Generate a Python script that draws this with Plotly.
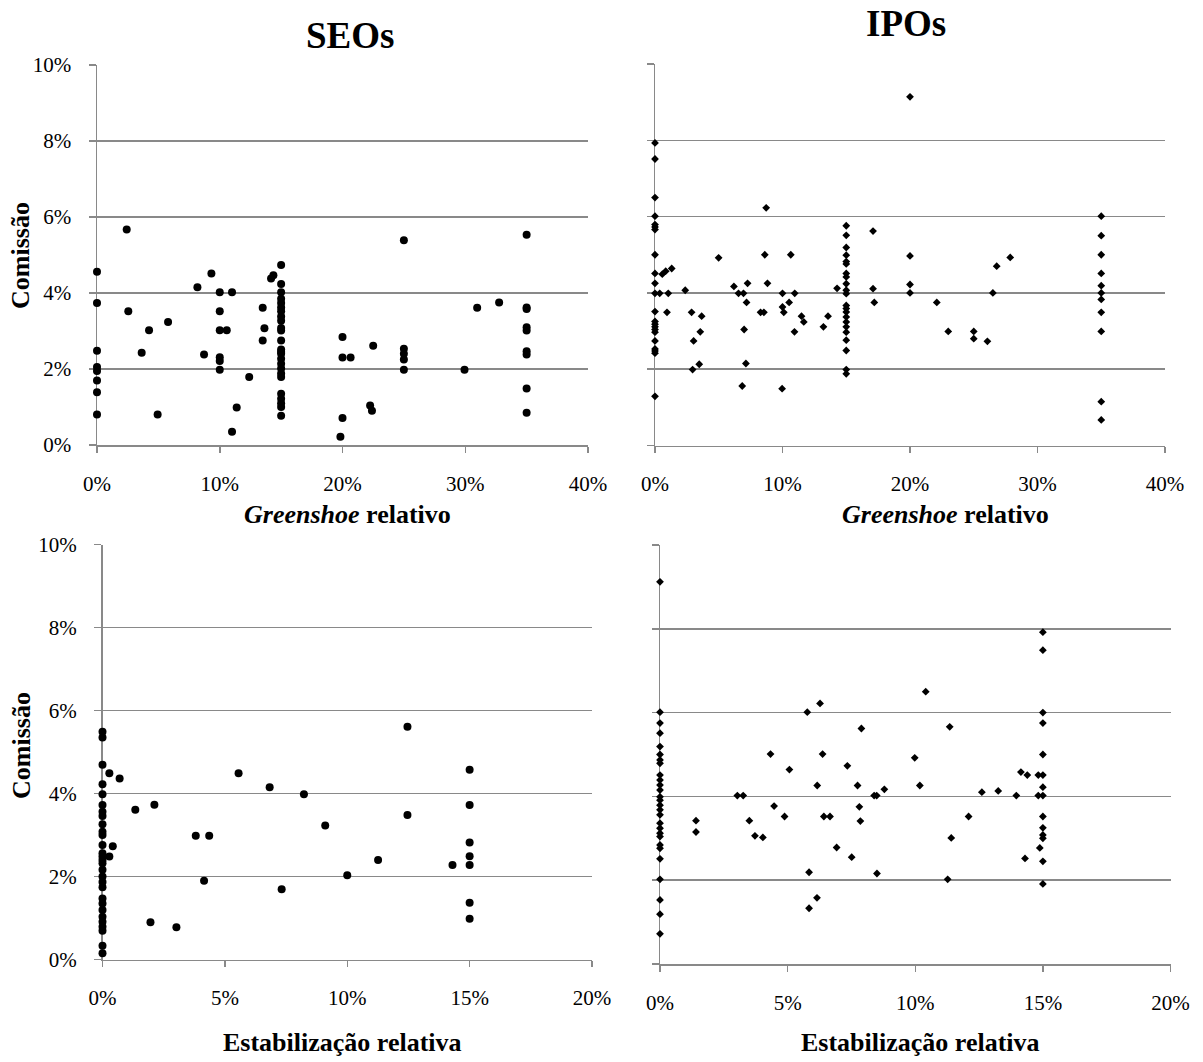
import plotly.graph_objects as go

# ---------------- DATA (in %) ----------------
# SEOs: Greenshoe relativo vs Comissão
seo_gs_x = [0, 0, 0, 0, 0, 0, 0, 0,
            2.42, 2.55, 4.24, 3.64, 5.79, 4.94,
            8.18, 9.32, 8.72,
            10, 10, 10, 10.57, 10, 10, 10,
            11.0, 12.4, 11.38, 11.0,
            13.5, 13.64, 13.5, 14.18, 14.37,
            15, 15, 15, 15, 15, 15, 15, 15, 15, 15, 15, 15, 15,
            15, 15, 15, 15, 15, 15, 15, 15, 15, 15, 15, 15,
            20, 20, 20.66, 20, 19.83, 22.5, 22.25, 22.4,
            25, 25, 25, 25, 25,
            29.94, 30.97, 32.76,
            35, 35, 35, 35, 35, 35, 35, 35, 35]
seo_gs_y = [4.56, 3.74, 2.48, 2.05, 1.95, 1.70, 1.39, 0.80,
            5.67, 3.52, 3.02, 2.43, 3.24, 0.80,
            4.15, 4.51, 2.38,
            4.02, 3.52, 3.02, 3.02, 2.31, 2.21, 1.98,
            4.02, 1.79, 0.99, 0.35,
            3.61, 3.07, 2.75, 4.38, 4.47,
            4.74, 4.24, 4.02, 3.85, 3.74, 3.62, 3.52, 3.38, 3.27, 3.08, 3.01, 2.75, 2.51,
            2.45, 2.40, 2.27, 2.14, 2.01, 1.88, 1.79, 1.35, 1.22, 1.10, 1.00, 0.77,
            2.84, 2.30, 2.30, 0.71, 0.22, 2.61, 1.04, 0.90,
            5.39, 2.53, 2.40, 2.25, 1.98,
            1.98, 3.61, 3.75,
            5.53, 3.62, 3.58, 3.10, 3.01, 2.47, 2.38, 1.49, 0.85]

# IPOs: Greenshoe relativo vs Comissão
ipo_gs_x = [0, 0, 0, 0, 0, 0, 0, 0, 0, 0, 0, 0, 0, 0, 0, 0, 0, 0, 0, 0, 0, 0,
            0.37, 0.57, 0.84, 1.31, 1.04, 0.94, 2.37, 2.87, 3.66, 3.55, 3.03, 3.47, 2.95,
            4.99, 6.19, 6.55, 6.94, 7.26, 7.18, 6.99, 7.13, 6.84,
            8.72, 8.61, 8.82, 8.28, 8.54, 10.0, 10.0, 10.1, 9.97,
            10.65, 10.52, 10.96, 11.49, 11.67, 10.94, 13.21, 13.57, 14.28,
            15, 15, 15, 15, 15, 15, 15, 15, 15, 15, 15,
            15, 15, 15, 15, 15, 15, 15, 15, 15, 15, 15,
            17.1, 17.1, 17.2, 20, 20, 20, 20, 22.1, 23.0, 25, 25, 26.07, 26.5, 26.8, 27.86,
            35, 35, 35, 35, 35, 35, 35, 35, 35, 35, 35]
ipo_gs_y = [7.93, 7.51, 6.50, 6.01, 5.79, 5.73, 5.66, 5.00, 4.51, 4.25, 3.99,
            3.51, 3.25, 3.18, 3.11, 3.04, 2.97, 2.74, 2.53, 2.48, 2.42, 1.29,
            3.99, 4.49, 4.57, 4.64, 3.99, 3.49, 4.07, 3.49, 3.39, 2.98, 2.74, 2.13, 1.99,
            4.92, 4.17, 3.99, 3.99, 4.25, 3.75, 3.04, 2.15, 1.56,
            6.23, 5.00, 4.25, 3.49, 3.49, 3.99, 3.63, 3.49, 1.49,
            5.00, 3.75, 3.99, 3.39, 3.24, 2.98, 3.11, 3.39, 4.12,
            5.76, 5.51, 5.19, 4.99, 4.82, 4.76, 4.51, 4.42, 4.24, 4.07, 3.98,
            3.67, 3.59, 3.50, 3.37, 3.24, 3.11, 2.97, 2.76, 2.49, 1.99, 1.88,
            5.62, 4.11, 3.75, 9.14, 4.97, 4.22, 4.00, 3.75, 2.99, 2.99, 2.80, 2.73, 4.00, 4.70, 4.93,
            6.01, 5.50, 5.00, 4.51, 4.19, 4.00, 3.83, 3.49, 2.99, 1.15, 0.67]

# SEOs: Estabilização relativa vs Comissão
seo_est_x = [0, 0, 0, 0, 0, 0, 0, 0, 0, 0, 0, 0, 0, 0, 0,
             0, 0, 0, 0, 0, 0, 0, 0, 0, 0, 0, 0, 0, 0,
             0.28, 0.70, 1.34, 2.12, 0.42, 0.28, 3.81, 4.36, 4.15, 1.96, 3.02,
             5.56, 6.83, 7.32, 8.23, 9.10, 10.0, 11.26, 12.46, 12.46, 14.30,
             15, 15, 15, 15, 15, 15, 15]
seo_est_y = [5.49, 5.35, 4.69, 4.22, 3.98, 3.72, 3.56, 3.46, 3.26, 3.08, 3.00, 2.76, 2.56, 2.48, 2.40,
             2.32, 2.16, 2.00, 1.87, 1.74, 1.47, 1.35, 1.19, 1.03, 0.91, 0.79, 0.69, 0.33, 0.15,
             4.49, 4.36, 3.61, 3.73, 2.73, 2.48, 2.98, 2.98, 1.90, 0.90, 0.78,
             4.49, 4.15, 1.69, 3.98, 3.23, 2.03, 2.40, 5.61, 3.48, 2.28,
             4.57, 3.72, 2.82, 2.49, 2.28, 1.37, 0.98]

# IPOs: Estabilização relativa vs Comissão
ipo_est_x = [0, 0, 0, 0, 0, 0, 0, 0, 0, 0, 0, 0, 0, 0,
             0, 0, 0, 0, 0, 0, 0, 0, 0, 0, 0, 0, 0, 0,
             1.41, 1.41, 3.03, 3.26, 3.50, 3.72, 4.03, 4.33, 4.47, 4.88, 5.07,
             5.77, 6.27, 6.37, 6.16, 6.42, 6.66, 6.92, 5.84, 6.15, 5.84,
             7.51, 7.34, 7.74, 7.81, 7.85, 7.89, 8.39, 8.49, 8.79, 8.50,
             9.98, 10.18, 10.41, 11.35, 11.41, 11.27, 12.09, 12.61, 13.25, 13.96,
             14.14, 14.39, 14.30, 14.88, 14.82, 14.82,
             15, 15, 15, 15, 15, 15, 15, 15, 15, 15, 15, 15, 15, 15]
ipo_est_y = [9.12, 6.01, 5.75, 5.51, 5.19, 5.00, 4.87, 4.79, 4.51, 4.39, 4.27, 4.15, 3.99, 3.91,
             3.79, 3.68, 3.56, 3.36, 3.24, 3.12, 3.04, 2.84, 2.76, 2.51, 2.02, 1.53, 1.19, 0.72,
             3.42, 3.15, 4.02, 4.02, 3.42, 3.06, 3.02, 5.01, 3.77, 3.52, 4.64,
             6.01, 6.22, 5.01, 4.26, 3.52, 3.52, 2.78, 2.19, 1.58, 1.33,
             2.55, 4.73, 4.26, 3.75, 3.41, 5.62, 4.02, 4.02, 4.17, 2.16,
             4.92, 4.26, 6.50, 5.66, 3.01, 2.02, 3.52, 4.10, 4.13, 4.02,
             4.58, 4.51, 2.52, 2.77, 4.51, 4.02,
             7.92, 7.49, 6.00, 5.75, 5.00, 4.51, 4.22, 4.02, 3.52, 3.25, 3.08, 3.00, 2.45, 1.91]

panel_titles = ["SEOs", "IPOs"]
y_title = "Comissão"
x_title_top = "<i>Greenshoe</i> relativo"
x_title_bottom = "Estabilização relativa"

# ---------------- LAYOUT ----------------
OFF = 0                      # body margin removed via post_script below
W, H = 1203, 1060
GRAY = "#898989"
SERIF = "Liberation Serif, Times New Roman, serif"


def xd(a, b):
    return [(a - OFF) / W, (b - OFF) / W]


def yd(top, bottom):
    return [1 - (bottom - OFF) / H, 1 - (top - OFF) / H]


fig = go.Figure()

panels = [
    (seo_gs_x, seo_gs_y, "circle", 8, "x", "y"),
    (ipo_gs_x, ipo_gs_y, "diamond", 6, "x2", "y2"),
    (seo_est_x, seo_est_y, "circle", 8, "x3", "y3"),
    (ipo_est_x, ipo_est_y, "diamond", 6, "x4", "y4"),
]
for xs, ys, sym, sz, xa, ya in panels:
    fig.add_trace(go.Scatter(
        x=xs, y=ys, mode="markers", xaxis=xa, yaxis=ya,
        marker=dict(symbol=sym, size=sz, color="black", line=dict(width=0)),
        cliponaxis=False, showlegend=False, hoverinfo="x+y"))

tickfont = dict(family=SERIF, size=21, color="black")


def xax(dom, rng, dt, anchor):
    return dict(domain=dom, range=rng, dtick=dt, tick0=0, anchor=anchor,
                automargin=False,
                showline=True, linecolor=GRAY, linewidth=1.5,
                ticks="outside", ticklen=6, tickwidth=1.5, tickcolor=GRAY,
                showgrid=False, zeroline=False, ticksuffix="%",
                tickfont=tickfont, ticklabelstandoff=13, layer="below traces",
                fixedrange=True)


def yax(dom, anchor, labels=True):
    return dict(domain=dom, range=[0, 10], dtick=2, tick0=0, anchor=anchor,
                automargin=False,
                showline=True, linecolor=GRAY, linewidth=1.5,
                ticks="outside", ticklen=7, tickwidth=1.5, tickcolor=GRAY,
                showgrid=True, gridcolor=GRAY, gridwidth=1.5, zeroline=False,
                ticksuffix="%", tickfont=tickfont, showticklabels=labels,
                ticklabelstandoff=13, layer="below traces", fixedrange=True)


fig.update_layout(
    width=W, height=H,
    margin=dict(l=0, r=0, t=0, b=0, autoexpand=False),
    paper_bgcolor="white", plot_bgcolor="white",
    xaxis=xax(xd(97, 588), [0, 40], 10, "y"),
    yaxis=yax(yd(65, 445), "x"),
    xaxis2=xax(xd(655, 1165), [0, 40], 10, "y2"),
    yaxis2=yax(yd(64, 445.5), "x2", labels=False),
    xaxis3=xax(xd(102.5, 592), [0, 20], 5, "y3"),
    yaxis3=yax(yd(544.5, 959.5), "x3"),
    xaxis4=xax(xd(660, 1170.5), [0, 20], 5, "y4"),
    yaxis4=yax(yd(545, 964), "x4", labels=False),
)


def ann(text, px, py, size, angle=0):
    fig.add_annotation(text=text, x=(px - OFF) / W, y=1 - (py - OFF) / H,
                       xref="paper", yref="paper",
                       xanchor="center", yanchor="middle", showarrow=False,
                       textangle=angle,
                       font=dict(family=SERIF, size=size, color="black"))


ann("<b>" + panel_titles[0] + "</b>", 350, 35, 37)
ann("<b>" + panel_titles[1] + "</b>", 906, 23, 37)
ann("<b>" + x_title_top + "</b>", 347, 514, 26)
ann("<b>" + x_title_top + "</b>", 945, 514, 26)
ann("<b>" + x_title_bottom + "</b>", 342, 1042, 26)
ann("<b>" + x_title_bottom + "</b>", 920, 1042, 26)
ann("<b>" + y_title + "</b>", 21, 256, 26, angle=-90)
ann("<b>" + y_title + "</b>", 21, 746, 26, angle=-90)

fig.write_html("out.html",
               config={"displayModeBar": False, "staticPlot": True},
               post_script="document.body.style.margin='0';"
                           "document.body.style.overflow='hidden';")
